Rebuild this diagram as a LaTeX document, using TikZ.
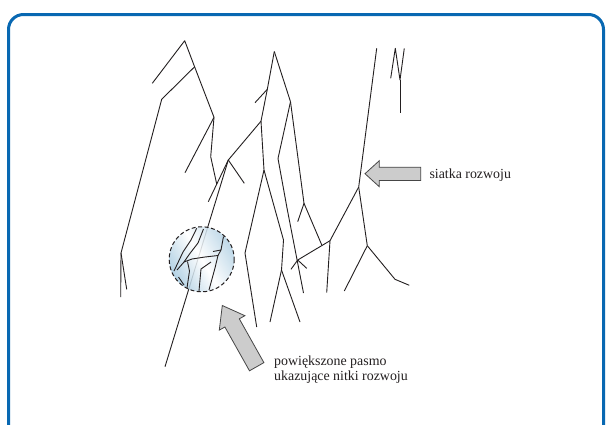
\documentclass[tikz,border=0pt]{standalone}
\usepackage{fontspec}
\setmainfont{Liberation Serif}
\definecolor{frameblue}{RGB}{8,104,178}
\definecolor{ink}{RGB}{35,31,32}
\definecolor{arrowfill}{RGB}{204,204,204}
\definecolor{arrowline}{RGB}{70,70,70}
\definecolor{tint}{RGB}{166,202,224}
\tikzset{
  net/.style={draw=ink, line width=0.9pt, line join=round},
  fat/.style={fill=arrowfill, draw=arrowline, line width=0.8pt, line join=miter},
  lbl/.style={anchor=base west, inner sep=0pt, font=\fontsize{13.9}{15}\selectfont, text=ink}
}
\begin{document}
\begin{tikzpicture}[x=1pt,y=-1pt]
\useasboundingbox (0,0) rectangle (606,424);
\begin{scope}
\clip (0,0) rectangle (606,424);
\fill[white] (0,0) rectangle (606,424);
% frame
\draw[frameblue, line width=3pt, rounded corners=15pt] (8.5,440) -- (8.5,14.5) -- (603.5,14.5) -- (603.5,440);

% named points
\coordinate (A) at (184.7,40.7);
\coordinate (P) at (194.6,66.8);
\coordinate (Q) at (214,117.3);
\coordinate (A1) at (161.7,99.3);
\coordinate (A2) at (121,253);
\coordinate (B) at (274.3,51.5);
\coordinate (L1) at (267.3,89.3);
\coordinate (L2) at (261,121.2);
\coordinate (J) at (228.3,160);
\coordinate (S) at (264,170);
\coordinate (R1) at (290.5,101.7);
\coordinate (R2) at (304,203.3);
\coordinate (K) at (330,240.7);
\coordinate (M) at (297.7,260);
\coordinate (N) at (358.7,187);
\coordinate (N2) at (367.3,245.7);
\coordinate (W) at (281.5,270);
\coordinate (Y) at (400,80);

% tree A
\draw[net] (152.3,83.3) -- (A) -- (P) -- (Q);
\draw[net] (P) -- (A1) -- (A2) -- (120.7,297);
\draw[net] (A2) -- (126.7,289.3);
\draw[net] (Q) -- (185,172.7);
\draw[net] (Q) -- (210.7,156.7) -- (216.7,184);

% tree B
\draw[net] (B) -- (L1) -- (L2) -- (S);
\draw[net] (L1) -- (255,102.7);
\draw[net] (L2) -- (J);
\draw[net] (J) -- (244.3,183.3);
\draw[net] (J) -- (208.3,201.7);
\draw[net] (J) -- (165,366.7);
\draw[net] (S) -- (245,253) -- (256.7,327);
\draw[net] (S) -- (283.5,240) -- (W) -- (270,322);
\draw[net] (W) -- (300,322);
\draw[net] (B) -- (R1);
\draw[net] (R1) -- (278,158.5) -- (287,208) -- (303.5,293);
\draw[net] (R1) -- (R2);
\draw[net] (R2) -- (297.7,221.7);
\draw[net] (R2) -- (322,245.5);
\draw[net] (K) -- (M);
\draw[net] (M) -- (291,269.3);
\draw[net] (M) -- (306.7,268.3);
\draw[net] (K) -- (N);
\draw[net] (K) -- (326.7,292.7);

% tall line
\draw[net] (376.7,48.3) -- (N) -- (N2) -- (344.3,291);
\draw[net] (N2) -- (395,279.3) -- (409.3,285.3);

% small top right
\draw[net] (390.7,78.3) -- (395.3,48.3) -- (Y) -- (404.3,48.3);
\draw[net] (Y) -- (400,113.3);

% magnified circle
\coordinate (C) at (201.7,259.3);
\shade[left color=tint, right color=tint!85, middle color=white, shading angle=120, opacity=0.85] (C) circle[radius=32.5];
\begin{scope}
\clip (C) circle[radius=32];
\draw[net] (196.7,228.3) -- (191,240) -- (183,252) -- (174,271);
\draw[net] (203.5,229) -- (198,243) -- (189.5,254) -- (184,262) -- (177,270);
\draw[net] (184,262) -- (192,259) -- (205,257) -- (218,255.5) -- (221,250) -- (223.5,236.5);
\draw[net] (221,250) -- (213,251.5);
\draw[net] (187.5,261.5) -- (189.5,271) -- (187,288);
\draw[net] (218,255.5) -- (215,268) -- (209,290);
\draw[net] (211,262) -- (201,269) -- (199,291);
\draw[net] (178.5,277) -- (184,285);
\end{scope}
\draw[draw=ink, line width=1pt, dash pattern=on 4pt off 2.5pt] (C) circle[radius=32.5];

% arrow 1
\draw[fat] (365,173.7) -- (379.3,160.7) -- (379.3,167.2) -- (420.7,167.2) -- (420.7,180.5) -- (379.3,180.5) -- (379.3,186.7) -- cycle;
% arrow 2
\draw[fat] (222.3,305.5) -- (244.9,315.7) -- (239.3,318.8) -- (263.9,362.6) -- (249.5,370.8) -- (224.9,327.0) -- (219.3,330.1) -- cycle;

% labels
\node[lbl] (siatka) at (429.3,178.3) {siatka rozwoju};
\node[lbl] (pasmo1) at (274,365.3) {powiększone pasmo};
\node[lbl] (pasmo2) at (274,380.3) {ukazujące nitki rozwoju};
\end{scope}
\end{tikzpicture}
\end{document}
